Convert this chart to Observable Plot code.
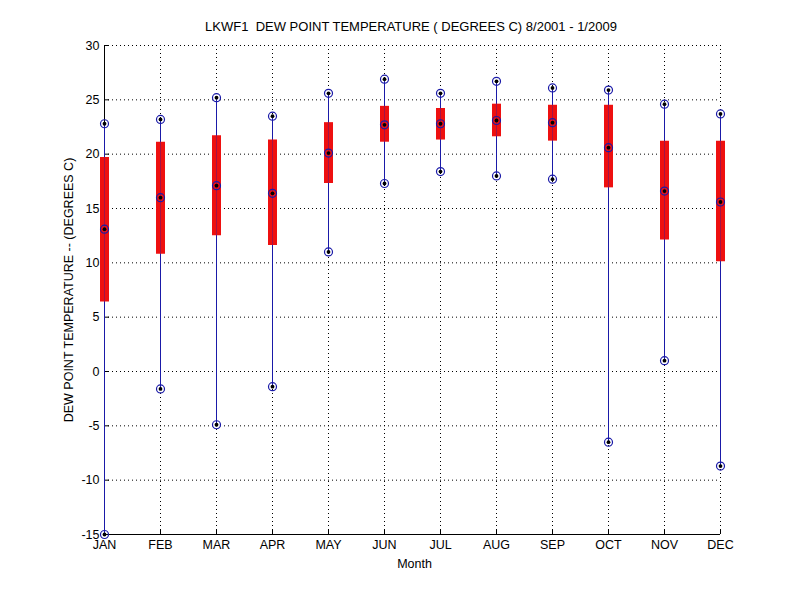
<!DOCTYPE html>
<html><head><meta charset="utf-8">
<script src="https://cdn.jsdelivr.net/npm/d3@7"></script>
<script src="https://cdn.jsdelivr.net/npm/@observablehq/plot@0.6"></script>
<style>
body{margin:0;background:#fff;font-family:"Liberation Sans",Arial,sans-serif;}
#wrap{width:800px;height:600px;background:#fff;}
#title{height:30px;width:822px;text-align:center;font-size:13px;line-height:14px;box-sizing:border-box;position:relative;}
#title span{position:relative;top:20px;}
#chart svg{display:block;}
</style></head><body>
<div id="wrap"><div id="title"><span>LKWF1&nbsp; DEW POINT TEMPERATURE ( DEGREES C) 8/2001 - 1/2009</span></div><div id="chart"></div></div>
<script>
const months = ["JAN","FEB","MAR","APR","MAY","JUN","JUL","AUG","SEP","OCT","NOV","DEC"];
const maxV = [22.8, 23.2, 25.2, 23.5, 25.6, 26.9, 25.6, 26.7, 26.1, 25.9, 24.6, 23.7];
const q3V  = [19.7, 21.1, 21.7, 21.3, 22.9, 24.4, 24.2, 24.6, 24.5, 24.5, 21.2, 21.2];
const medV = [13.1, 16.0, 17.1, 16.4, 20.1, 22.7, 22.8, 23.1, 22.9, 20.6, 16.6, 15.6];
const q1V  = [6.4, 10.8, 12.5, 11.6, 17.3, 21.1, 21.3, 21.6, 21.2, 16.9, 12.1, 10.1];
const minV = [-15.0, -1.6, -4.9, -1.4, 11.0, 17.3, 18.4, 18.0, 17.7, -6.5, 1.0, -8.7];
const yTicks = [-15, -10, -5, 0, 5, 10, 15, 20, 25, 30];

const data = months.map((m, i) => ({month: m, max: maxV[i], q3: q3V[i], med: medV[i], q1: q1V[i], min: minV[i]}));
const pts = data.flatMap(d => [{month: d.month, v: d.max}, {month: d.month, v: d.med}, {month: d.month, v: d.min}]);

const blue = "#1a1aa8";
const red = "#ee1010";
const dotted = {stroke: "black", strokeOpacity: 1, strokeDasharray: "1,3", strokeWidth: 1};

const chart = Plot.plot({
  width: 800,
  height: 570,
  marginTop: 15,
  marginBottom: 66,
  marginLeft: 104,
  marginRight: 80,
  style: {fontFamily: "'Liberation Sans', Arial, sans-serif", fontSize: "12.5px", background: "white", color: "black"},
  x: {type: "point", domain: months, padding: 0, round: false, label: null},
  y: {domain: [-15, 30], label: null},
  marks: [
    Plot.gridY(yTicks, dotted),
    Plot.gridX(months, dotted),
    Plot.ruleY([-15], {stroke: "black"}),
    Plot.ruleX([months[0]], {stroke: "black", y1: -15, y2: 30}),
    Plot.axisY(yTicks, {tickSize: -5, tickPadding: 10, label: null, fontSize: 12.5, tickFormat: d => String(d)}),
    Plot.axisX(months, {tickSize: -5, tickPadding: 11, label: null, fontSize: 12.5}),
    Plot.ruleX(data, {x: "month", y1: "min", y2: "max", stroke: blue, strokeWidth: 1}),
    Plot.ruleX(data, {x: "month", y1: "q1", y2: "q3", stroke: red, strokeWidth: 9}),
    Plot.ruleX(data, {x: "month", y1: "q1", y2: "q3", stroke: blue, strokeWidth: 1, strokeOpacity: 0.35}),
    Plot.dot(pts, {x: "month", y: "v", r: 4, stroke: blue, fill: "none", strokeWidth: 1.2}),
    Plot.dot(pts, {x: "month", y: "v", r: 1.9, fill: "black", stroke: "none"}),
    Plot.text(["DEW POINT TEMPERATURE -- (DEGREES C)"], {frameAnchor: "left", rotate: -90, dx: -36, textAnchor: "middle", lineAnchor: "middle", fontSize: 12.5}),
    Plot.text(["Month"], {frameAnchor: "bottom", dx: 2, dy: 29, lineAnchor: "middle", fontSize: 12.5})
  ]
});
document.getElementById("chart").appendChild(chart);
</script>
</body></html>
